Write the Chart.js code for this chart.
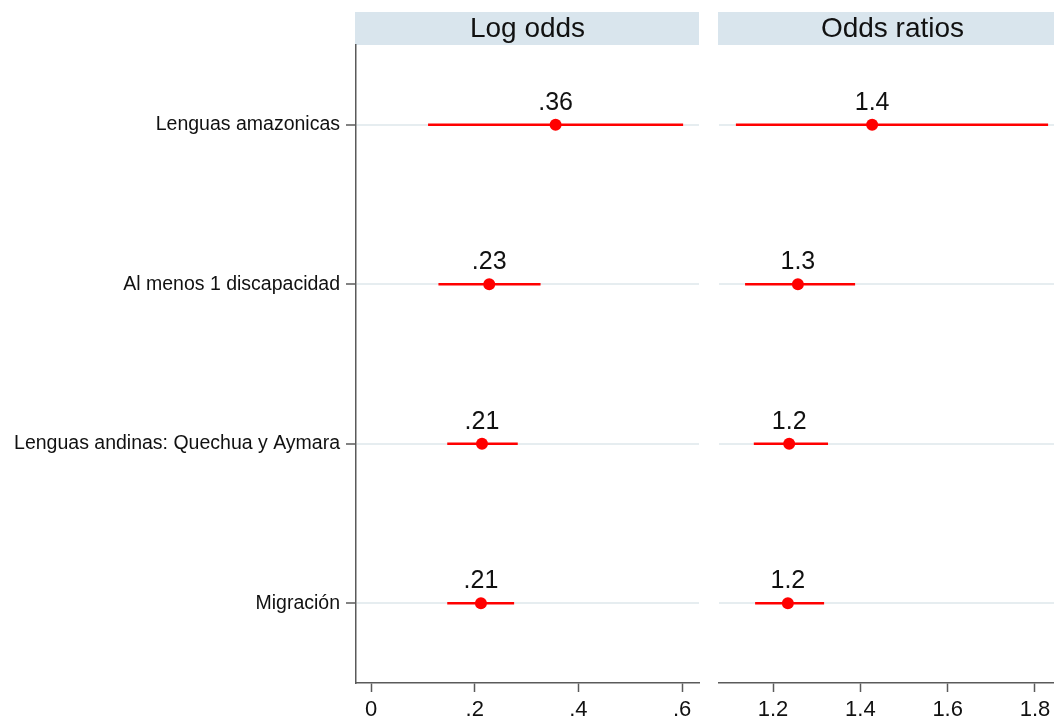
<!DOCTYPE html>
<html>
<head>
<meta charset="utf-8">
<title>Log odds / Odds ratios</title>
<script src="https://cdn.jsdelivr.net/npm/chart.js@4.4.1/dist/chart.umd.min.js"></script>
<style>
  html, body { margin: 0; padding: 0; background: #fff; overflow: hidden; }
  #wrap { position: relative; width: 1054px; height: 720px; overflow: hidden; }
  canvas { position: absolute; top: 0; }
  #left-chart { left: 0; }
  #right-chart { left: 700px; }
</style>
</head>
<body>
<div id="wrap">
  <canvas id="left-chart" width="700" height="720"></canvas>
  <canvas id="right-chart" width="367" height="720"></canvas>
</div>
<script>
// Data
const categories = ['Lenguas amazonicas', 'Al menos 1 discapacidad', 'Lenguas andinas: Quechua y Aymara', 'Migración'];
const logOdds   = [0.356, 0.228, 0.214, 0.212];
const logLower  = [0.110, 0.130, 0.147, 0.147];
const logUpper  = [0.602, 0.327, 0.283, 0.276];
const oddsRatio = [1.427, 1.257, 1.237, 1.234];
const orLower   = [1.115, 1.136, 1.156, 1.159];
const orUpper   = [1.830, 1.388, 1.326, 1.317];
const logTicks  = [0, 0.2, 0.4, 0.6];
const orTicks   = [1.2, 1.4, 1.6, 1.8];

const FONT = 'Arial, "Liberation Sans", sans-serif';
const RED = '#ff0000';
const AXIS = '#5a5a5a';
const GRID = '#e6edf0';
const BAND = '#d9e5ed';

// Stata-style numbers: drop the leading zero (.36, .2)
function fmt(v, digits) {
  if (v === 0) return '0';
  let s = digits == null ? String(+v.toFixed(3)) : v.toFixed(digits);
  return s.replace(/^0\./, '.').replace(/^-0\./, '-.');
}

// ── Header band + value labels ───────────────────────────────
const panelDecor = {
  id: 'panelDecor',
  beforeDraw(chart, args, opts) {
    const { ctx, chartArea: a } = chart;
    ctx.save();
    ctx.fillStyle = BAND;
    ctx.fillRect(a.left - 1, 12, a.right - a.left + 1, 33);
    ctx.fillStyle = '#111';
    ctx.font = '28px ' + FONT;
    ctx.textAlign = 'center';
    ctx.textBaseline = 'alphabetic';
    ctx.fillText(opts.title, (a.left + a.right) / 2, 37);
    ctx.restore();
  },
  afterDatasetsDraw(chart, args, opts) {
    const { ctx } = chart;
    const meta = chart.getDatasetMeta(chart.data.datasets.length - 1);
    ctx.save();
    ctx.fillStyle = '#111';
    ctx.font = '25px ' + FONT;
    ctx.textAlign = 'center';
    ctx.textBaseline = 'alphabetic';
    meta.data.forEach((pt, i) => {
      ctx.fillText(opts.labels[i], pt.x, pt.y - 15);
    });
    ctx.restore();
  }
};

function buildPanel(id, cfg) {
  const rows = categories.map((c, i) => i + 1);
  const ciSets = rows.map((r, i) => ({
    type: 'line',
    data: [{ x: cfg.lower[i], y: r }, { x: cfg.upper[i], y: r }],
    borderColor: RED,
    borderWidth: 2.5,
    pointRadius: 0,
    clip: false
  }));
  const estSet = {
    type: 'scatter',
    data: cfg.est.map((v, i) => ({ x: v, y: rows[i] })),
    backgroundColor: RED,
    pointRadius: 6,
    pointBorderWidth: 0,
    clip: false
  };

  return new Chart(document.getElementById(id).getContext('2d'), {
    type: 'scatter',
    data: { datasets: [...ciSets, estSet] },
    options: {
      responsive: false,
      animation: false,
      layout: { padding: cfg.padding, autoPadding: false },
      plugins: {
        legend: { display: false },
        tooltip: { enabled: false },
        panelDecor: { title: cfg.title, labels: cfg.est.map(v => fmt(v, cfg.digits)) }
      },
      scales: {
        x: {
          type: 'linear',
          min: cfg.min,
          max: cfg.max,
          afterBuildTicks: s => { s.ticks = cfg.ticks.map(v => ({ value: v })); },
          afterFit: s => {
            s.height = 37;
            // keep the plot edges fixed, tick labels may overhang
            s.paddingLeft = 0;
            s.paddingRight = 0;
          },
          border: { display: true, color: AXIS, width: 1.5 },
          grid: { drawOnChartArea: false, drawTicks: true, tickLength: 9, tickColor: AXIS, tickWidth: 1.5 },
          ticks: {
            color: '#111',
            font: { family: FONT, size: 22 },
            padding: 5,
            maxRotation: 0,
            autoSkip: false,
            callback: v => fmt(v)
          }
        },
        y: {
          type: 'linear',
          min: 0.5,
          max: 4.5,
          reverse: true,
          afterBuildTicks: s => { s.ticks = rows.map(v => ({ value: v })); },
          afterFit: s => {
            s.width = cfg.showLabels ? 356 : 0;
            s.paddingTop = 0;
            s.paddingBottom = 0;
          },
          border: { display: cfg.showLabels, color: AXIS, width: 1.5 },
          grid: { color: GRID, lineWidth: 2, drawTicks: cfg.showLabels, tickLength: 10, tickColor: AXIS, tickWidth: 1.5 },
          ticks: {
            display: cfg.showLabels,
            color: '#111',
            font: { family: FONT, size: 19.5 },
            padding: 6,
            autoSkip: false,
            callback: v => categories[v - 1]
          }
        }
      }
    },
    plugins: [panelDecor]
  });
}

// ── Panels ───────────────────────────────────────────────────
buildPanel('left-chart', {
  title: 'Log odds',
  est: logOdds, lower: logLower, upper: logUpper,
  ticks: logTicks, min: -0.029, max: 0.6326, digits: 2,
  showLabels: true,
  padding: { top: 45, right: 1, left: 0, bottom: 0 }
});

buildPanel('right-chart', {
  title: 'Odds ratios',
  est: oddsRatio, lower: orLower, upper: orUpper,
  ticks: orTicks, min: 1.0763, max: 1.871, digits: 1,
  showLabels: false,
  padding: { top: 45, right: 1, left: 19, bottom: 0 }
});
</script>
</body>
</html>
